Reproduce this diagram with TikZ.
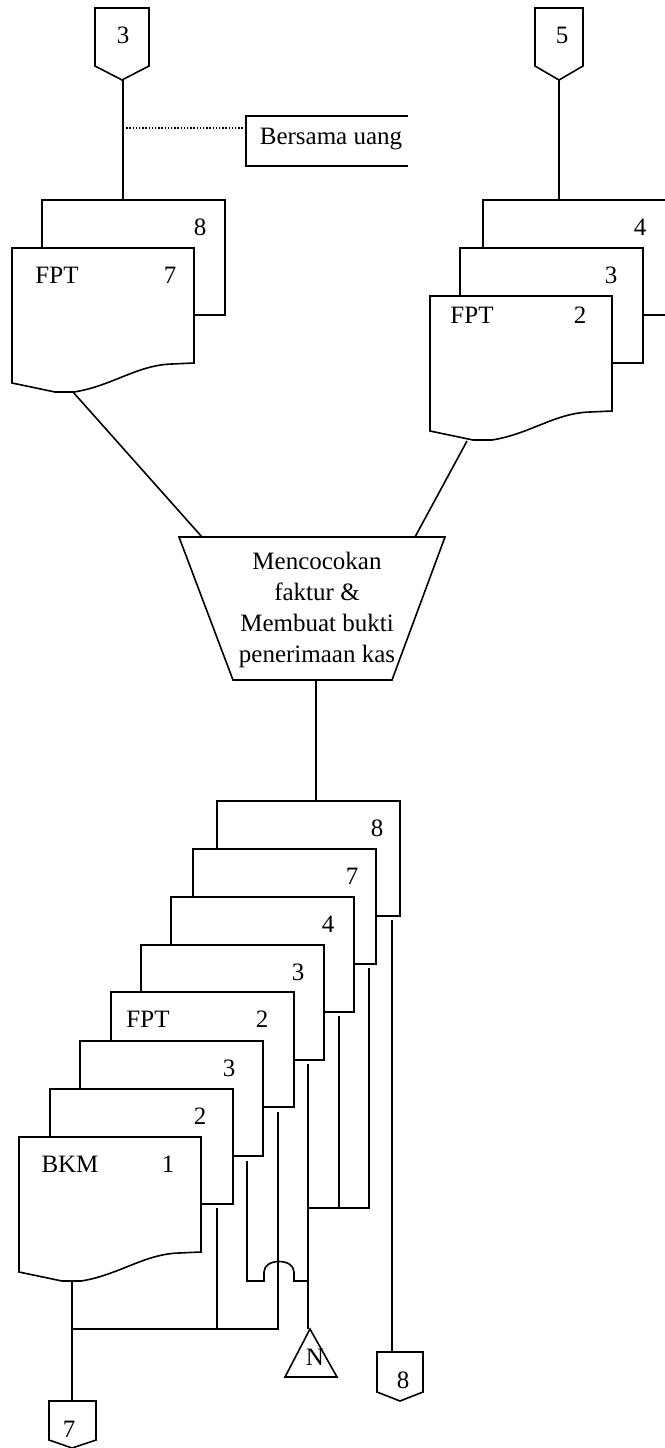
\documentclass[tikz,border=0pt]{standalone}
\usepackage{fontspec}
\setmainfont{Liberation Serif}
\begin{document}
\begin{tikzpicture}[x=1pt,y=-1pt,line width=1.6pt,line join=miter,
  lbl/.style={anchor=base,inner sep=0pt,font=\fontsize{25}{31}\selectfont},
  proc/.style={align=center,inner sep=0pt,font=\fontsize{25}{31}\selectfont},
  flow/.style={draw=black},
  note/.style={draw=black,dash pattern=on 1.4pt off 1.8pt,line width=1.4pt},
  pics/sheet/.style={code={\draw[fill=white] (0,0) rectangle (183,115);}},
  pics/wavesheet/.style={code={
    \draw[fill=white] (0,0) -- (182,0) -- (182,115) -- (160,116)
      .. controls (125,117) and (100,138) .. (62,144) -- (43,144) -- (0,135) -- cycle;}}]
\useasboundingbox (0,0) rectangle (664,1448);

% ---------- off-page connectors at the top ----------
\draw[fill=white] (95,8) -- (149,8) -- (149,66) -- (122,80) -- (95,66) -- cycle;
\node[lbl] (k3) at (123,43) {3};
\coordinate (k3tip) at (123,80);
\draw[fill=white] (535,8) -- (583,8) -- (583,66) -- (559,80) -- (535,66) -- cycle;
\node[lbl] (k5) at (562,43) {5};
\coordinate (k5tip) at (559,80);

% ---------- left stack: FPT 8 / 7 ----------
\pic at (42,200) {sheet};
\pic at (12,248) {wavesheet};
\node[lbl] (l8) at (200,235) {8};
\node[lbl] (lfpt) at (57,283) {FPT};
\node[lbl] (l7) at (170,283) {7};
\coordinate (ltop) at (123,200);
\coordinate (lbot) at (73,392);

% note box, open on its right side
\node[lbl] (note) at (331,144) {Bersama uang};
\draw (408,116) -- (246,116) -- (246,166) -- (408,166);
\coordinate (notel) at (246,128);
\coordinate (notej) at (123,128);

% ---------- right stack: FPT 4 / 3 / 2 ----------
\pic at (483,200) {sheet};
\pic at (460,248) {sheet};
\pic at (430,296) {wavesheet};
\node[lbl] (r4) at (640,235) {4};
\node[lbl] (r3) at (611,283) {3};
\node[lbl] (rfpt) at (472,323) {FPT};
\node[lbl] (r2) at (580,323) {2};
\coordinate (rtop) at (559,200);
\coordinate (rbot) at (467,441);

% ---------- manual process ----------
\draw[fill=white] (179,537) -- (445,537) -- (392,680) -- (233,680) -- cycle;
\node[proc] (proc) at (317,610) {Mencocokan\\faktur \&\\Membuat bukti\\penerimaan kas};
\coordinate (ptl) at (202,537);
\coordinate (ptr) at (415,537);
\coordinate (pbot) at (316,680);

% ---------- bottom stack ----------
\pic at (217,801) {sheet};
\pic at (193,849) {sheet};
\pic at (171,897) {sheet};
\pic at (141,945) {sheet};
\pic at (111,992) {sheet};
\pic at (80,1041) {sheet};
\pic at (50,1089) {sheet};
\pic at (19,1137) {wavesheet};
\node[lbl] (b8) at (377,836) {8};
\node[lbl] (b7) at (352,884) {7};
\node[lbl] (b4) at (328,932) {4};
\node[lbl] (b3a) at (298,980) {3};
\node[lbl] (bfpt) at (148,1027) {FPT};
\node[lbl] (b2a) at (262,1027) {2};
\node[lbl] (b3b) at (229,1076) {3};
\node[lbl] (b2b) at (200,1124) {2};
\node[lbl] (bbkm) at (70,1172) {BKM};
\node[lbl] (b1) at (168,1172) {1};
\coordinate (btop) at (316,801);

% outlets under each sheet
\coordinate (o8) at (392,920);
\coordinate (o7) at (369,968);
\coordinate (o4) at (339,1016);
\coordinate (o3a) at (308,1064);
\coordinate (ofpt) at (278,1112);
\coordinate (o3b) at (247,1161);
\coordinate (o2) at (217,1208);
\coordinate (obkm) at (72,1280);

% joints
\coordinate (j7) at (369,1208);
\coordinate (j4) at (339,1208);
\coordinate (j3) at (308,1208);
\coordinate (jb1) at (247,1281);
\coordinate (hl) at (264,1281);
\coordinate (hr) at (294,1281);
\coordinate (jb2) at (308,1281);
\coordinate (jf) at (278,1329);
\coordinate (j2) at (217,1329);
\coordinate (jk) at (72,1329);

% terminal symbols at the bottom
\draw[fill=white] (310,1329) -- (337,1377) -- (285,1377) -- cycle;
\node[lbl] (file) at (315,1365) {N};
\coordinate (ntop) at (308,1329);
\draw[fill=white] (377,1352) -- (423,1352) -- (423,1392) -- (400,1401) -- (377,1392) -- cycle;
\node[lbl] (k8) at (403,1388) {8};
\coordinate (k8top) at (392,1352);
\draw[fill=white] (49,1401) -- (96,1401) -- (96,1440) -- (72,1448) -- (49,1440) -- cycle;
\node[lbl] (k7) at (69,1437) {7};
\coordinate (k7top) at (72,1401);

% ---------- flow lines ----------
\draw[flow] (k3tip) -- (ltop);
\draw[note] (notej) -- (notel);
\draw[flow] (k5tip) -- (rtop);
\draw[flow] (lbot) -- (ptl);
\draw[flow] (rbot) -- (ptr);
\draw[flow] (pbot) -- (btop);
\draw[flow] (o8) -- (k8top);
\draw[flow] (o7) -- (j7) -- (j3);
\draw[flow] (o4) -- (j4);
\draw[flow] (o3a) -- (ntop);
\draw[flow] (o3b) -- (jb1) -- (hl) -- ++(0,-9)
  .. controls ++(0,-14) and ++(0,-14) .. ([yshift=9pt]hr) -- (hr) -- (jb2);
\draw[flow] (ofpt) -- (jf) -- (jk);
\draw[flow] (o2) -- (j2);
\draw[flow] (obkm) -- (k7top);
\end{tikzpicture}
\end{document}
